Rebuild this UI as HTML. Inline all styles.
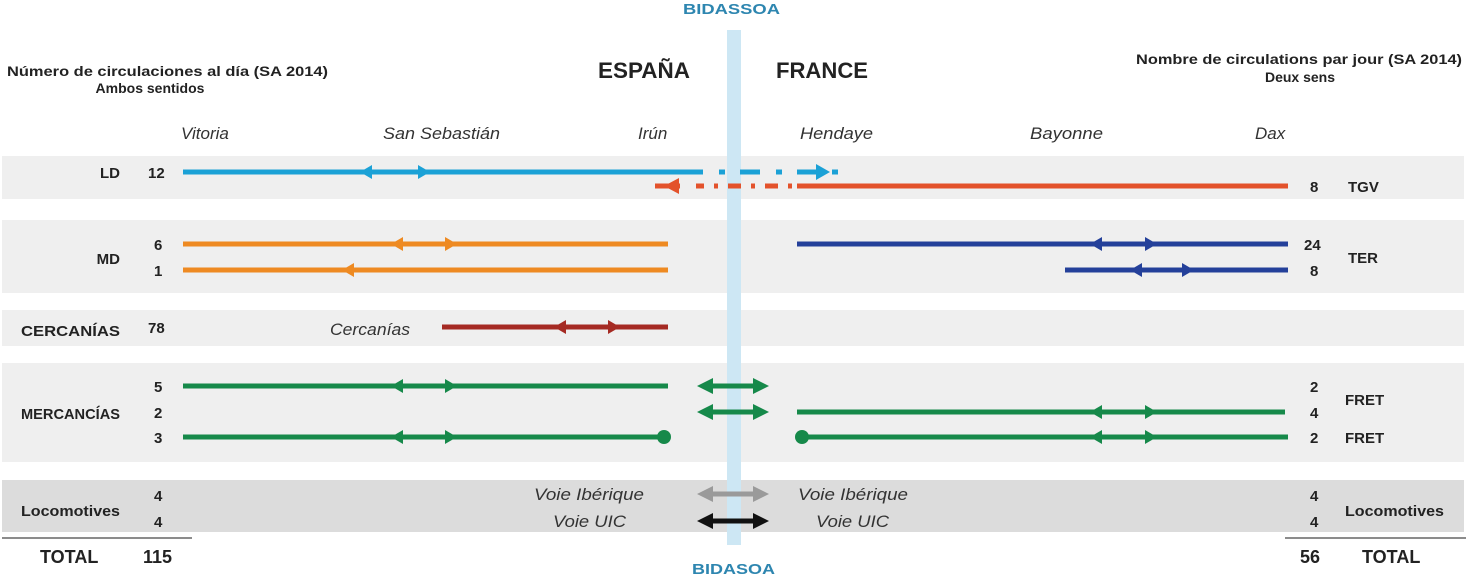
<!DOCTYPE html>
<html><head><meta charset="utf-8"><style>
html,body{margin:0;padding:0;background:#fff;}
svg{display:block;font-family:"Liberation Sans",sans-serif;}
.b{font-weight:bold;fill:#222;}
.i{font-style:italic;fill:#333;}
</style></head><body>
<svg width="1466" height="576" viewBox="0 0 1466 576" xmlns="http://www.w3.org/2000/svg">
<!-- bands -->
<rect x="2" y="156" width="1462" height="43" fill="#efefef"/>
<rect x="2" y="220" width="1462" height="73" fill="#efefef"/>
<rect x="2" y="310" width="1462" height="36" fill="#efefef"/>
<rect x="2" y="363" width="1462" height="99" fill="#efefef"/>
<rect x="2" y="480" width="1462" height="52" fill="#dcdcdc"/>
<!-- river -->
<rect x="727" y="30" width="14" height="515" fill="#cde7f4"/>
<!-- headers -->
<text x="7" y="76" class="b" font-size="14" textLength="321" lengthAdjust="spacingAndGlyphs">Número de circulaciones al día (SA 2014)</text>
<text x="150" y="93" class="b" font-size="14" text-anchor="middle">Ambos sentidos</text>
<text x="1136" y="64" class="b" font-size="14" textLength="326" lengthAdjust="spacingAndGlyphs">Nombre de circulations par jour (SA 2014)</text>
<text x="1300" y="82" class="b" font-size="14" text-anchor="middle">Deux sens</text>
<text x="598" y="78" class="b" font-size="22" textLength="92" lengthAdjust="spacingAndGlyphs">ESPAÑA</text>
<text x="776" y="78" class="b" font-size="22" textLength="92" lengthAdjust="spacingAndGlyphs">FRANCE</text>
<text x="683" y="14" font-weight="bold" font-size="15" fill="#2e86b0" textLength="97" lengthAdjust="spacingAndGlyphs">BIDASSOA</text>
<text x="692" y="574" font-weight="bold" font-size="15" fill="#2e86b0" textLength="83" lengthAdjust="spacingAndGlyphs">BIDASOA</text>
<!-- stations -->
<g class="i" font-size="17">
<text x="181" y="139">Vitoria</text>
<text x="383" y="139" textLength="117" lengthAdjust="spacingAndGlyphs">San Sebastián</text>
<text x="638" y="139">Irún</text>
<text x="800" y="139" textLength="73" lengthAdjust="spacingAndGlyphs">Hendaye</text>
<text x="1030" y="139" textLength="73" lengthAdjust="spacingAndGlyphs">Bayonne</text>
<text x="1255" y="139">Dax</text>
</g>
<!-- left labels -->
<g class="b" font-size="15">
<text x="120" y="178" text-anchor="end">LD</text>
<text x="148" y="178">12</text>
<text x="120" y="264" text-anchor="end">MD</text>
<text x="154" y="250">6</text>
<text x="154" y="276">1</text>
<text x="120" y="336" text-anchor="end" textLength="99" lengthAdjust="spacingAndGlyphs">CERCANÍAS</text>
<text x="148" y="333">78</text>
<text x="120" y="419" text-anchor="end" textLength="99" lengthAdjust="spacingAndGlyphs">MERCANCÍAS</text>
<text x="154" y="392">5</text>
<text x="154" y="418">2</text>
<text x="154" y="443">3</text>
<text x="120" y="516" text-anchor="end" textLength="99" lengthAdjust="spacingAndGlyphs">Locomotives</text>
<text x="154" y="501">4</text>
<text x="154" y="527">4</text>
<text x="40" y="563" font-size="18">TOTAL</text>
<text x="143" y="563" font-size="18">115</text>
<!-- right labels -->
<text x="1310" y="192">8</text>
<text x="1348" y="192">TGV</text>
<text x="1304" y="250">24</text>
<text x="1310" y="276">8</text>
<text x="1348" y="263">TER</text>
<text x="1310" y="392">2</text>
<text x="1310" y="418">4</text>
<text x="1310" y="443">2</text>
<text x="1345" y="405">FRET</text>
<text x="1345" y="443">FRET</text>
<text x="1310" y="501">4</text>
<text x="1310" y="527">4</text>
<text x="1345" y="516" textLength="99" lengthAdjust="spacingAndGlyphs">Locomotives</text>
<text x="1300" y="563" font-size="18">56</text>
<text x="1362" y="563" font-size="18">TOTAL</text>
</g>
<line x1="2" y1="538" x2="192" y2="538" stroke="#666" stroke-width="1.5"/>
<line x1="1285" y1="538" x2="1466" y2="538" stroke="#666" stroke-width="1.5"/>
<!-- LD blue -->
<g stroke="#1ba1d6" stroke-width="5" fill="#1ba1d6">
<line x1="183" y1="172" x2="703" y2="172"/>
<line x1="719" y1="172" x2="725" y2="172"/>
<line x1="740" y1="172" x2="760" y2="172"/>
<line x1="776" y1="172" x2="782" y2="172"/>
<line x1="797" y1="172" x2="818" y2="172"/>
<line x1="832" y1="172" x2="838" y2="172"/>
</g>
<g fill="#1ba1d6">
<polygon points="360,172 372,165 372,179"/>
<polygon points="430,172 418,165 418,179"/>
<polygon points="830,172 816,164 816,180"/>
</g>
<!-- TGV red -->
<g stroke="#e3522b" stroke-width="5">
<line x1="797" y1="186" x2="1288" y2="186"/>
<line x1="655" y1="186" x2="680" y2="186"/>
<line x1="696" y1="186" x2="704" y2="186"/>
<line x1="714" y1="186" x2="718" y2="186"/>
<line x1="728" y1="186" x2="741" y2="186"/>
<line x1="751" y1="186" x2="755" y2="186"/>
<line x1="765" y1="186" x2="778" y2="186"/>
<line x1="788" y1="186" x2="792" y2="186"/>
</g>
<polygon points="664,186 679,178 679,194" fill="#e3522b"/>
<!-- MD orange -->
<g stroke="#ee8a22" stroke-width="5">
<line x1="183" y1="244" x2="668" y2="244"/>
<line x1="183" y1="270" x2="668" y2="270"/>
</g>
<g fill="#ee8a22">
<polygon points="391,244 403,237 403,251"/>
<polygon points="457,244 445,237 445,251"/>
<polygon points="342,270 354,263 354,277"/>
</g>
<!-- TER dark blue -->
<g stroke="#24409a" stroke-width="5">
<line x1="797" y1="244" x2="1288" y2="244"/>
<line x1="1065" y1="270" x2="1288" y2="270"/>
</g>
<g fill="#24409a">
<polygon points="1090,244 1102,237 1102,251"/>
<polygon points="1157,244 1145,237 1145,251"/>
<polygon points="1130,270 1142,263 1142,277"/>
<polygon points="1194,270 1182,263 1182,277"/>
</g>
<!-- Cercanías -->
<text x="330" y="335" class="i" font-size="17" textLength="80" lengthAdjust="spacingAndGlyphs">Cercanías</text>
<line x1="442" y1="327" x2="668" y2="327" stroke="#a52a23" stroke-width="5"/>
<g fill="#a52a23">
<polygon points="554,327 566,320 566,334"/>
<polygon points="620,327 608,320 608,334"/>
</g>
<!-- Mercancías green -->
<g stroke="#16894a" stroke-width="5">
<line x1="183" y1="386" x2="668" y2="386"/>
<line x1="183" y1="437" x2="663" y2="437"/>
<line x1="797" y1="412" x2="1285" y2="412"/>
<line x1="803" y1="437" x2="1288" y2="437"/>
<line x1="706" y1="386" x2="760" y2="386"/>
<line x1="706" y1="412" x2="760" y2="412"/>
</g>
<g fill="#16894a">
<polygon points="391,386 403,379 403,393"/>
<polygon points="457,386 445,379 445,393"/>
<polygon points="391,437 403,430 403,444"/>
<polygon points="457,437 445,430 445,444"/>
<polygon points="1090,412 1102,405 1102,419"/>
<polygon points="1157,412 1145,405 1145,419"/>
<polygon points="1090,437 1102,430 1102,444"/>
<polygon points="1157,437 1145,430 1145,444"/>
<circle cx="664" cy="437" r="7"/>
<circle cx="802" cy="437" r="7"/>
<polygon points="697,386 713,378 713,394"/>
<polygon points="769,386 753,378 753,394"/>
<polygon points="697,412 713,404 713,420"/>
<polygon points="769,412 753,404 753,420"/>
</g>
<!-- Locomotives -->
<g class="i" font-size="17">
<text x="644" y="500" text-anchor="end" textLength="110" lengthAdjust="spacingAndGlyphs">Voie Ibérique</text>
<text x="626" y="527" text-anchor="end" textLength="73" lengthAdjust="spacingAndGlyphs">Voie UIC</text>
<text x="798" y="500" textLength="110" lengthAdjust="spacingAndGlyphs">Voie Ibérique</text>
<text x="816" y="527" textLength="73" lengthAdjust="spacingAndGlyphs">Voie UIC</text>
</g>
<line x1="706" y1="494" x2="760" y2="494" stroke="#9a9a9a" stroke-width="5"/>
<polygon points="697,494 713,486 713,502" fill="#9a9a9a"/>
<polygon points="769,494 753,486 753,502" fill="#9a9a9a"/>
<line x1="706" y1="521" x2="760" y2="521" stroke="#111" stroke-width="5"/>
<polygon points="697,521 713,513 713,529" fill="#111"/>
<polygon points="769,521 753,513 753,529" fill="#111"/>
</svg>
</body></html>
